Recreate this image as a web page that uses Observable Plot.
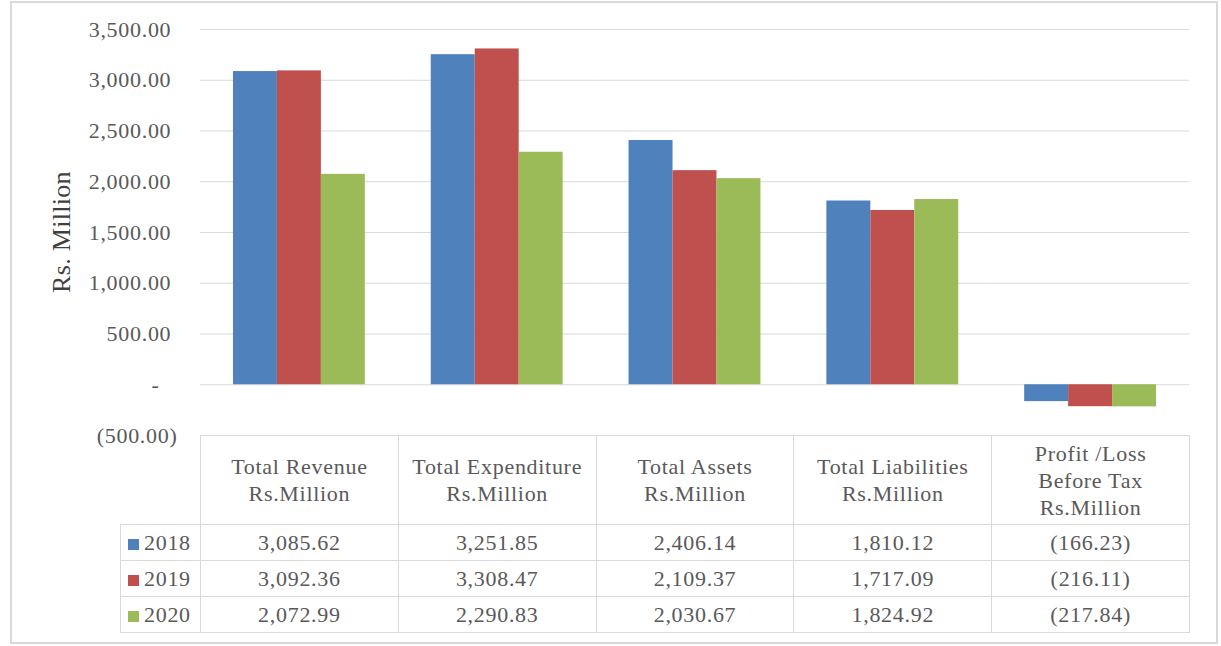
<!DOCTYPE html>
<html><head><meta charset="utf-8">
<script src="https://cdn.jsdelivr.net/npm/d3@7"></script>
<script src="https://cdn.jsdelivr.net/npm/@observablehq/plot@0.6"></script>
<style>
body{margin:0;background:#fff;}
#wrap{position:relative;width:1221px;height:646px;background:#fff;font-family:"Liberation Serif","Times New Roman",serif;overflow:hidden;}
#frame{position:absolute;left:10px;top:1px;width:1204px;height:639px;border:2px solid #d9d9d9;}
#chart{position:absolute;left:0;top:0;}
#ytitle{position:absolute;left:62px;top:232px;transform:translate(-50%,-50%) rotate(-90deg);font-size:26px;letter-spacing:0.3px;color:#404040;white-space:nowrap;}
#tbl{position:absolute;left:120px;top:435px;border-collapse:collapse;table-layout:fixed;color:#595959;font-size:22px;line-height:27px;letter-spacing:0.7px;}
#tbl td{border:1px solid #d9d9d9;padding:0;text-align:center;white-space:pre-line;}
#tbl td.empty{border:none;}
#tbl tr.head td{height:88px;}
#tbl tr.data td{height:35px;}
#tbl td.lab{text-align:left;padding-left:7px;}
.sw{display:inline-block;width:11px;height:11px;margin-right:5px;vertical-align:0px;}
</style>
</head><body>
<div id="wrap">
  <div id="frame"></div>
  <div id="chart"></div>
  <div id="ytitle"></div>
  <table id="tbl"></table>
</div>
<script>
const categories = ["Total Revenue\nRs.Million", "Total Expenditure\nRs.Million", "Total Assets\nRs.Million", "Total Liabilities\nRs.Million", "Profit /Loss\nBefore Tax\nRs.Million"];
const years = ["2018", "2019", "2020"];
const values2018 = [3085.62, 3251.85, 2406.14, 1810.12, -166.23];
const values2019 = [3092.36, 3308.47, 2109.37, 1717.09, -216.11];
const values2020 = [2072.99, 2290.83, 2030.67, 1824.92, -217.84];
const yTicks = [-500, 0, 500, 1000, 1500, 2000, 2500, 3000, 3500];
const colors = ["#4F81BD", "#C0504D", "#9BBB59"];
const yTitle = "Rs. Million";

const series = [values2018, values2019, values2020];
const rows = years.flatMap((yr, i) => categories.map((c, j) => ({category: c, year: yr, value: series[i][j]})));

const fmt = d3.format(",.2f");
const tickFmt = v => v < 0 ? `(${fmt(-v)})` : v === 0 ? "-\u2002\u2008" : fmt(v) + "\u2008";

const chart = Plot.plot({
  width: 1221, height: 440,
  marginLeft: 200, marginRight: 32, marginTop: 29, marginBottom: 5,
  style: {fontFamily: '"Liberation Serif", "Times New Roman", serif', fontSize: "22px", letterSpacing: "0.7px", color: "#595959", background: "transparent", overflow: "visible"},
  fx: {domain: categories, padding: 0, axis: null, round: false},
  x: {domain: years, paddingInner: 0, paddingOuter: 0.75, axis: null, round: false},
  y: {domain: [-500, 3500], ticks: yTicks, tickFormat: tickFmt, tickSize: 0, tickPadding: 23, label: null},
  color: {domain: years, range: colors},
  marks: [
    Plot.ruleY(yTicks, {stroke: "#d9d9d9", strokeWidth: 1}),
    Plot.barY(rows, {fx: "category", x: "year", y: "value", fill: "year"})
  ]
});
document.getElementById("chart").appendChild(chart);
document.getElementById("ytitle").textContent = yTitle;

// data table
const tbl = document.getElementById("tbl");
const colg = document.createElement("colgroup");
const c0 = document.createElement("col"); c0.style.width = "80px"; colg.appendChild(c0);
categories.forEach(() => { const c = document.createElement("col"); c.style.width = "197.8px"; colg.appendChild(c); });
tbl.appendChild(colg);
const head = document.createElement("tr"); head.className = "head";
const e = document.createElement("td"); e.className = "empty"; head.appendChild(e);
categories.forEach(c => { const td = document.createElement("td"); td.textContent = c; head.appendChild(td); });
tbl.appendChild(head);
const valFmt = v => v < 0 ? `(${fmt(-v)})` : fmt(v);
years.forEach((yr, i) => {
  const tr = document.createElement("tr"); tr.className = "data";
  const lab = document.createElement("td"); lab.className = "lab";
  const sw = document.createElement("span"); sw.className = "sw"; sw.style.background = colors[i];
  lab.appendChild(sw); lab.appendChild(document.createTextNode(yr));
  tr.appendChild(lab);
  series[i].forEach(v => { const td = document.createElement("td"); td.textContent = valFmt(v); tr.appendChild(td); });
  tbl.appendChild(tr);
});
</script>
</body></html>
